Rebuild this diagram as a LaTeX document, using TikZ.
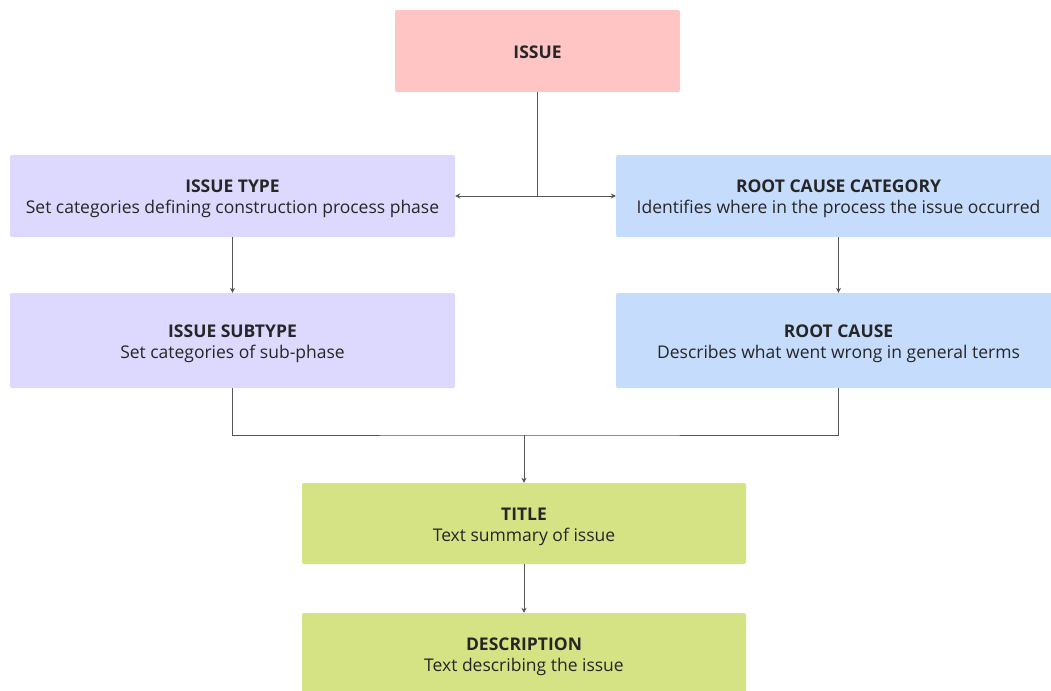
\documentclass[tikz,border=0pt]{standalone}
\usepackage{fontspec}
\setmainfont{Open Sans}
\usetikzlibrary{arrows.meta}
\definecolor{issuepink}{HTML}{FFC4C4}
\definecolor{typelav}{HTML}{DDD9FE}
\definecolor{causeblue}{HTML}{C6DCFC}
\definecolor{textgreen}{HTML}{D6E384}
\definecolor{inkdark}{HTML}{262626}
\definecolor{linegray}{HTML}{555555}
% strut that lowers a two-line label a little inside its card
\newcommand\headstrut{\rule{0pt}{19pt}}
\tikzset{
  card/.style={rectangle, rounded corners=2pt, draw=none, align=center,
    text=inkdark, font=\fontsize{17.5}{21}\selectfont, inner sep=0pt},
  wide/.style={card, minimum width=445pt, minimum height=82pt},
  link/.style={draw=linegray, line width=0.8pt},
  tip/.style={-{Stealth[length=5pt,width=5pt]}}
}
\begin{document}
\begin{tikzpicture}[x=1pt,y=-1pt]
\useasboundingbox (0,0) rectangle (1051,690);
% boxes
\node[card, fill=issuepink, minimum width=285pt, minimum height=82pt] (issue) at (537.5,51) {\rule{0pt}{14.5pt}\textbf{ISSUE}};
\node[wide, fill=typelav] (type) at (232.5,196) {\headstrut\textbf{ISSUE TYPE}\\Set categories defining construction process phase};
\node[wide, fill=causeblue] (rcc) at (838.5,196) {\headstrut\textbf{ROOT CAUSE CATEGORY}\\Identifies where in the process the issue occurred};
\node[wide, fill=typelav, minimum height=95pt] (sub) at (232.5,340.5) {\headstrut\textbf{ISSUE SUBTYPE}\\Set categories of sub-phase};
\node[wide, fill=causeblue, minimum height=95pt] (rc) at (838.5,340.5) {\headstrut\textbf{ROOT CAUSE}\\Describes what went wrong in general terms};
\node[wide, fill=textgreen, minimum width=444pt, minimum height=81pt] (title) at (524,523.5) {\headstrut\textbf{TITLE}\\Text summary of issue};
\node[wide, fill=textgreen, minimum width=444pt, minimum height=81pt] (desc) at (524,653.5) {\headstrut\textbf{DESCRIPTION}\\Text describing the issue};
% junction points
\coordinate (split) at (issue.south |- type.east);
\coordinate (merge) at (title.north |- 0,435);
% connectors
\draw[link] (issue.south) -- (split);
\draw[link, tip] (split) -- (type.east);
\draw[link, tip] (split) -- (rcc.west);
\draw[link, tip] (type.south) -- (sub.north);
\draw[link, tip] (rcc.south) -- (rc.north);
\draw[link] (sub.south) |- (merge) -| (rc.south);
\draw[link, tip] (merge) -- (title.north);
\draw[link, tip] (title.south) -- (desc.north);
\end{tikzpicture}
\end{document}
